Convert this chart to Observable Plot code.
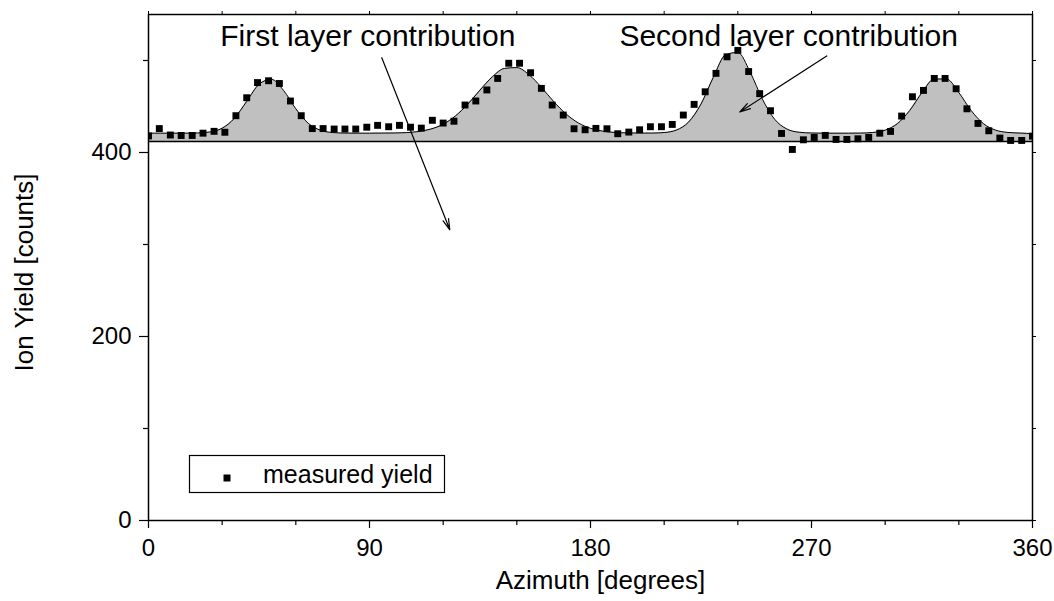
<!DOCTYPE html>
<html>
<head>
<meta charset="utf-8">
<script src="https://cdn.jsdelivr.net/npm/d3@7"></script>
<script src="https://cdn.jsdelivr.net/npm/@observablehq/plot@0.6"></script>
<style>
  html, body { margin: 0; padding: 0; background: #fff; }
  #chart svg { display: block; }
</style>
</head>
<body>
<div id="chart"></div>
<script>
// Measured ion yield versus azimuthal angle
const azimuth = [
  0, 4.4, 8.9, 13.3, 17.8, 22.2, 26.7, 31.1, 35.6, 40.0, 44.4, 48.9, 53.3, 57.8,
  62.2, 66.7, 71.1, 75.6, 80.0, 84.4, 88.9, 93.3, 97.8, 102.2, 106.7, 111.1, 115.6,
  120.0, 124.4, 128.9, 133.3, 137.8, 142.2, 146.7, 151.1, 155.6, 160.0, 164.4, 168.9,
  173.3, 177.8, 182.2, 186.7, 191.1, 195.6, 200.0, 204.4, 208.9, 213.3, 217.8, 222.2,
  226.7, 231.1, 235.6, 240.0, 244.4, 248.9, 253.3, 257.8, 262.2, 266.7, 271.1, 275.6,
  280.0, 284.4, 288.9, 293.3, 297.8, 302.2, 306.7, 311.1, 315.6, 320.0, 324.4, 328.9,
  333.3, 337.8, 342.2, 346.7, 351.1, 355.6, 360.0
];
const measuredYield = [
  418, 426, 419, 418.5, 418.5, 421, 423, 422, 440, 459.5, 476, 478, 475, 456,
  440, 426, 426, 425.5, 425.5, 425.5, 427.5, 429.5, 428, 429.5, 427.5, 426.5, 435,
  432, 434, 451.6, 456, 468, 480.5, 497, 497, 486.7, 469.7, 451.6, 440.7,
  425.8, 424.7, 426.2, 425.8, 420.4, 422.2, 424.7, 428, 428, 430.5, 440.7, 452.3,
  466, 486, 504, 511, 488, 464, 445.4, 420.7, 403.3, 413.8, 416.4, 418.6,
  414.2, 414.2, 414.9, 416.4, 421, 422.9, 439.6, 460.6, 467.5, 480.5, 480.5, 469.3,
  447.5, 431.6, 423.6, 415.7, 413.1, 413.1, 417.8
];

// Fitted curve (sum of first-layer level and second-layer peaks)
const fitAzimuth = [
  0, 5, 10, 15, 20, 25, 30, 35, 40, 45, 50, 55, 60, 65, 70, 75, 80, 85, 90,
  95, 100, 105, 110, 115, 120, 125, 130, 135, 140, 145, 150, 155, 160, 165, 170, 175, 180,
  185, 190, 195, 200, 205, 210, 215, 220, 225, 230, 235, 240, 245, 250, 255, 260, 265, 270,
  275, 280, 285, 290, 295, 300, 305, 310, 315, 320, 325, 330, 335, 340, 345, 350, 355, 360
];
const fitYield = [
  421, 421, 421, 421, 421.2, 422.3, 426.4, 437.2, 455.6, 474.1, 479.6, 467.5, 447.5, 431.9, 424.2, 421.7, 421.1, 421, 421,
  421.1, 421.2, 421.6, 422.8, 425.5, 430.7, 439.7, 452.5, 467.8, 482.2, 491.4, 492.3, 484.5, 470.9, 455.4, 442, 432.2, 426.3,
  423.2, 421.8, 421.3, 421.1, 421.1, 421.7, 424.4, 433.2, 452.7, 481.6, 506.1, 508.8, 487.5, 458, 436.1, 425.5, 422, 421.2,
  421, 421, 421, 421.1, 421.8, 424.3, 431.4, 445.7, 465.1, 479.9, 479.9, 465.1, 445.7, 431.4, 424.3, 421.8, 421.1, 420.5
];

// First-layer contribution level
const firstLayerLevel = 412;

// Axis ticks
const xMajorTicks = [0, 90, 180, 270, 360];
const xMinorTicks = [30, 60, 120, 150, 210, 240, 300, 330];
const yMajorTicks = [0, 200, 400];
const yMinorTicks = [100, 300, 500];

// Callout labels with arrows, in azimuth / counts units
const calloutText = ["First layer contribution", "Second layer contribution"];
const calloutAt = [[89.3, 526], [260.7, 526]];
const calloutFrom = [[95, 503], [276.2, 505]];
const calloutTo = [[122.7, 316], [240.8, 444]];

const legendLabel = "measured yield";
const xTitle = "Azimuth [degrees]";
const yTitle = "Ion Yield [counts]";

const points = azimuth.map((a, i) => ({azimuth: a, counts: measuredYield[i]}));
const fit = fitAzimuth.map((a, i) => ({azimuth: a, counts: fitYield[i]}));
const callouts = calloutText.map((t, i) => ({
  text: t,
  tx: calloutAt[i][0], ty: calloutAt[i][1],
  x1: calloutFrom[i][0], y1: calloutFrom[i][1],
  x2: calloutTo[i][0], y2: calloutTo[i][1]
}));

const font = "'Liberation Sans', Arial, Helvetica, sans-serif";

const chart = Plot.plot({
  width: 1054,
  height: 601,
  marginLeft: 148,
  marginRight: 22,
  marginTop: 14,
  marginBottom: 81,
  style: {fontFamily: font, background: "#fff", color: "#000", overflow: "visible"},
  x: {domain: [0, 360]},
  y: {domain: [0, 550]},
  marks: [
    Plot.areaY(fit, {x: "azimuth", y1: firstLayerLevel, y2: "counts", fill: "#c0c0c0", curve: "monotone-x", clip: true}),
    Plot.line(fit, {x: "azimuth", y: "counts", stroke: "#000", strokeWidth: 1, curve: "monotone-x", clip: true}),
    Plot.ruleY([firstLayerLevel], {stroke: "#000", strokeWidth: 1.5}),
    Plot.dot(points, {x: "azimuth", y: "counts", symbol: "square", r: 3.9, fill: "#000", stroke: "none", clip: true}),
    Plot.arrow(callouts, {x1: "x1", y1: "y1", x2: "x2", y2: "y2", stroke: "#000", strokeWidth: 1.2, headLength: 14, headAngle: 30}),
    Plot.text(callouts, {x: "tx", y: "ty", text: "text", fontSize: 30, fill: "#000"}),
    Plot.frame({stroke: "#000", strokeWidth: 1.5}),
    Plot.axisX({ticks: xMajorTicks, tickSize: 8, tickPadding: 10, fontSize: 24, label: null, stroke: "#000", strokeWidth: 1.2}),
    Plot.axisX({ticks: xMinorTicks, tickSize: 5, text: null, label: null, strokeWidth: 1.2}),
    Plot.axisX({anchor: "top", ticks: [...xMajorTicks, ...xMinorTicks], tickSize: 4, text: null, label: null}),
    Plot.axisY({ticks: yMajorTicks, tickSize: 9, tickPadding: 8, fontSize: 24, label: null, strokeWidth: 1.2}),
    Plot.axisY({ticks: yMinorTicks, tickSize: 5, text: null, label: null, strokeWidth: 1.2}),
    Plot.axisY({anchor: "right", ticks: [...yMajorTicks, ...yMinorTicks], tickSize: 3, text: null, label: null}),
    Plot.text([xTitle], {frameAnchor: "bottom", text: d => d, dy: 68, dx: 10, fontSize: 26, fill: "#000"}),
    Plot.text([yTitle], {frameAnchor: "left", text: d => d, textAnchor: "middle", dx: -124, dy: 5, rotate: -90, fontSize: 26, fill: "#000"})
  ]
});

// Boxed legend in the lower-left corner of the plot area
const svg = d3.select(chart);
const legend = svg.append("g").attr("font-family", font).attr("text-anchor", "start");
legend.append("rect")
  .attr("x", 189.5).attr("y", 455.5).attr("width", 255).attr("height", 37)
  .attr("fill", "#fff").attr("stroke", "#000").attr("stroke-width", 1.2);
legend.append("rect")
  .attr("x", 223.5).attr("y", 474.5).attr("width", 7).attr("height", 7)
  .attr("fill", "#000");
legend.append("text")
  .attr("x", 263).attr("y", 483)
  .attr("text-anchor", "start")
  .attr("font-size", 25).attr("fill", "#000")
  .text(legendLabel);

document.getElementById("chart").appendChild(chart);
</script>
</body>
</html>
